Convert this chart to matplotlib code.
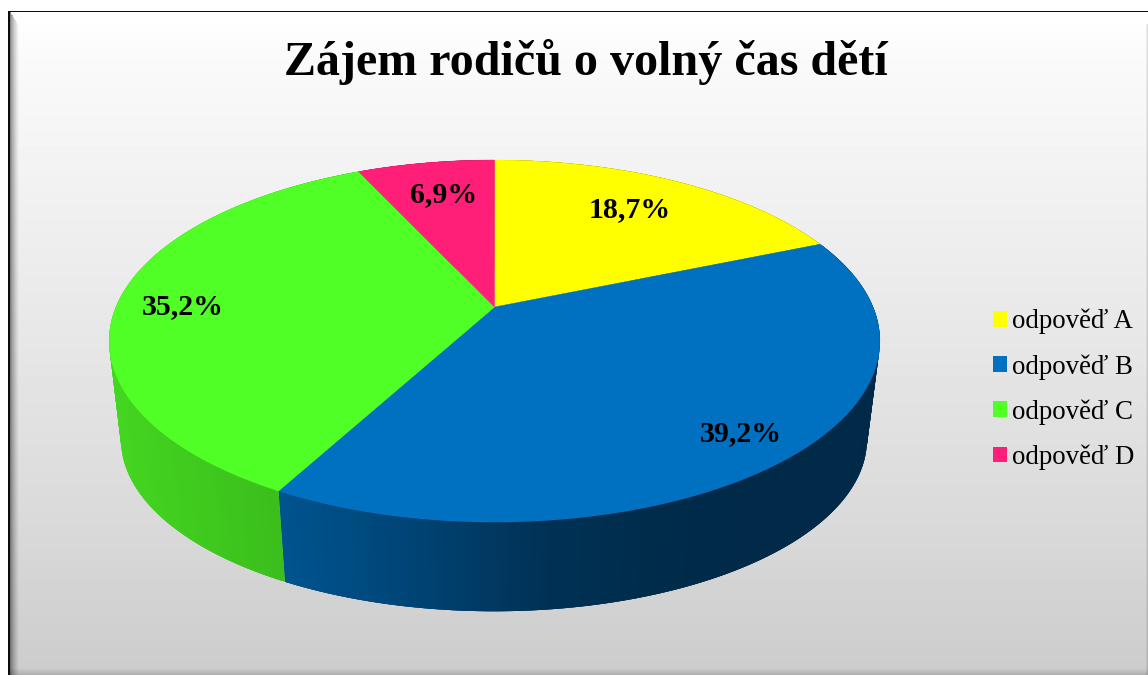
import numpy as np
import matplotlib
matplotlib.use("Agg")
import matplotlib.pyplot as plt
from matplotlib.collections import PolyCollection
from matplotlib.patches import Patch, Polygon

title = "Zájem rodičů o volný čas dětí"
categories = ["odpověď A", "odpověď B", "odpověď C", "odpověď D"]
values = [18.7, 39.2, 35.2, 6.9]
colors = ["#FFFF00", "#0070C0", "#50FF26", "#FF1F78"]
label_xy = [(630, 210), (741, 434), (183, 307), (444, 195)]

W, H = 1148, 675
plt.rcParams["font.family"] = ["Liberation Serif", "DejaVu Serif"]
fig = plt.figure(figsize=(W / 100, H / 100), dpi=100)
ax = fig.add_axes([0, 0, 1, 1])
ax.set_xlim(0, W)
ax.set_ylim(H, 0)
ax.axis("off")

# background panel with bevel
yy, xx = np.mgrid[0:H, 0:W] + 0.5
g = np.interp(yy, [11, 25, 60, 340, 530, 600, 675], [1, .995, .98, .905, .85, .825, .80])
bev_l = np.clip((xx - 10) / 9, 0, 1)
g = g * (0.45 + 0.55 * bev_l ** 0.6)
g = np.where(yy < 25, np.maximum(g, (xx >= 10 + (yy - 11).clip(0) * 0.6) * 1.0), g)
bev_b = np.clip((675 - yy) / 7, 0, 1)
g = g * (0.85 + 0.15 * bev_b)
bev_r = np.clip((1148 - xx) / 2.5, 0, 1)
g = np.where(yy > 24, g * (0.85 + 0.15 * bev_r), g)
g = np.where((xx < 8) | (yy < 11), 1.0, g)
g = np.where(((xx >= 8) & (xx < 10) & (yy >= 11)) | ((yy >= 11) & (yy < 12.5) & (xx >= 8)), 0.05, g)
ax.imshow(np.clip(g, 0, 1), cmap="gray", vmin=0, vmax=1, extent=(0, W, H, 0),
          aspect="auto", zorder=0, interpolation="bilinear")
ax.set_xlim(0, W)
ax.set_ylim(H, 0)


def project(theta, cx, cy, a, b, k):
    u, v = np.sin(theta), np.cos(theta)
    d = 1 + k * v
    return np.column_stack([cx + a * u / d, cy - b * v / d])


top = dict(cx=494.5, cy=307.0, a=378.5, b=174.6, k=0.1878)
bottom = dict(cx=494.0, cy=407.5, a=366.3, b=165.5, k=0.1878)

edges = np.cumsum([0] + values) / sum(values) * 2 * np.pi

# side wall: overlapping opaque strips avoid seams
wall_x = [109, 285, 400, 550, 680, 880]
wall_f = [.84, .74, .62, .44, .38, .37]
for i, col in enumerate(colors):
    th = np.linspace(edges[i], edges[i + 1], max(int(values[i] * 8), 4))
    p = project(th, **top)
    q = project(th, **bottom)
    base = np.array(matplotlib.colors.to_rgb(col))
    quads, fcs = [], []
    for j in range(len(th) - 1):
        j2 = min(j + 3, len(th) - 1)
        quads.append([p[j], p[j2], q[j2], q[j]])
        f = np.interp((p[j, 0] + p[j + 1, 0]) / 2, wall_x, wall_f)
        fcs.append(base * f)
    ax.add_collection(PolyCollection(quads, facecolors=fcs, edgecolors="none",
                                     linewidths=0, zorder=2 + i * 0.01))

# top faces
for i, col in enumerate(colors):
    th = np.linspace(edges[i], edges[i + 1], 200)
    pts = np.vstack([[top["cx"], top["cy"]], project(th, **top)])
    ax.add_patch(Polygon(pts, closed=True, facecolor=col, edgecolor=col, linewidth=0.3, zorder=3))

for v, (x, y) in zip(values, label_xy):
    ax.text(x, y, f"{v:.1f}".replace(".", ",") + "%", ha="center", va="center",
            fontsize=21.5, fontweight="bold", color="black", zorder=4)

ax.text(586, 62, title, ha="center", va="center", fontsize=34.6, fontweight="bold",
        color="black", zorder=4)

handles = [Patch(facecolor=c, edgecolor=c, linewidth=0, label=l) for c, l in zip(colors, categories)]
ax.legend(handles=handles, loc="center left", bbox_to_anchor=(993, 389.5),
          bbox_transform=ax.transData, frameon=False, fontsize=19.4,
          handlelength=0.52, handleheight=0.52, handletextpad=0.2,
          labelspacing=0.73, borderpad=0, borderaxespad=0, labelcolor="black")

fig.savefig("out.png", dpi=100)
